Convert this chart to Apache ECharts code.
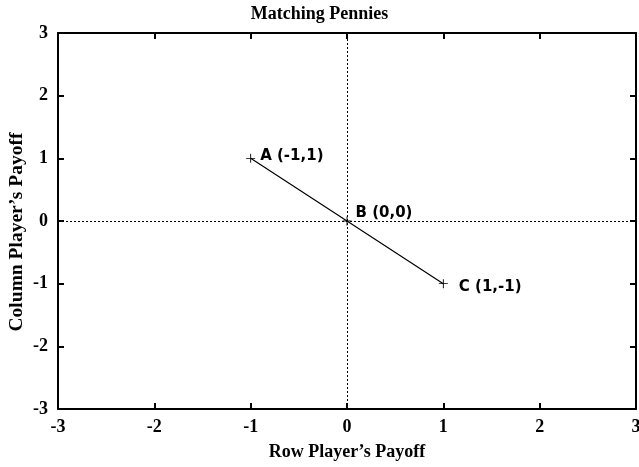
<!DOCTYPE html>
<html><head><meta charset="utf-8">
<script src="https://cdn.jsdelivr.net/npm/echarts@6/dist/echarts.min.js"></script>
<style>html,body{margin:0;padding:0;background:#fff}#c{width:639px;height:467px}</style>
</head><body><div id="c"></div>
<script>
var pointNames = ['A (-1,1)', 'B (0,0)', 'C (1,-1)'];
var xValues = [-1, 0, 1];
var yValues = [1, 0, -1];
var xTicks = [-3, -2, -1, 0, 1, 2, 3];
var yTicks = [-3, -2, -1, 0, 1, 2, 3];

var labelOffsets = [[0, -2], [-1, -8], [6, 3]];
var data = xValues.map(function (x, i) {
  return {
    value: [x, yValues[i]],
    label: { formatter: pointNames[i], offset: labelOffsets[i] }
  };
});
var serif = 'Liberation Serif';
var plus = 'path://M0,4.5h10v1h-10z M4.5,0h1v10h-1z';
var chart = echarts.init(document.getElementById('c'));
var axBase = {
  type: 'value', min: -3, max: 3, interval: 1,
  axisLine: { show: true, onZero: false, lineStyle: { color: '#000', width: 2 } },
  axisTick: { show: true, inside: true, length: 6, lineStyle: { color: '#000', width: 2 } },
  splitLine: { show: false }
};
chart.setOption({
  animation: false,
  title: {
    text: 'Matching Pennies', left: 'center', top: 0,
    textStyle: { fontFamily: serif, fontSize: 18, fontWeight: 'bold', color: '#000' }
  },
  grid: { left: 58, right: 3, top: 33, bottom: 58, containLabel: false, outerBoundsMode: 'none' },
  xAxis: [
    Object.assign({}, axBase, {
      position: 'bottom',
      name: "Row Player\u2019s Payoff", nameLocation: 'middle', nameGap: 34,
      nameTextStyle: { fontFamily: serif, fontSize: 18, fontWeight: 'bold', color: '#000' },
      axisLabel: { margin: 9, fontFamily: serif, fontSize: 18, fontWeight: 'bold', color: '#000',
        formatter: function (v) { return xTicks.indexOf(v) >= 0 ? String(v) : ''; } }
    }),
    Object.assign({}, axBase, { position: 'top', axisLabel: { show: false } })
  ],
  yAxis: [
    Object.assign({}, axBase, {
      position: 'left',
      name: "Column Player\u2019s Payoff", nameLocation: 'middle', nameGap: 31, nameMoveOverlap: false,
      nameTextStyle: { fontFamily: serif, fontSize: 19.5, fontWeight: 'bold', color: '#000', padding: [0, 22, 0, 0] },
      axisLabel: { margin: 10, fontFamily: serif, fontSize: 18, fontWeight: 'bold', color: '#000',
        formatter: function (v) { return yTicks.indexOf(v) >= 0 ? String(v) : ''; } }
    }),
    Object.assign({}, axBase, { position: 'right', axisLabel: { show: false } })
  ],
  series: [{
    type: 'line',
    data: data,
    symbol: plus,
    symbolSize: 9,
    showAllSymbol: true,
    itemStyle: { color: '#000' },
    lineStyle: { color: '#000', width: 1.2 },
    label: {
      show: true, position: 'right', color: '#000',
      fontFamily: 'DejaVu Sans', fontWeight: 'bold', fontSize: 15
    },
    markLine: {
      silent: true, symbol: 'none', label: { show: false },
      lineStyle: { type: [2, 2], color: '#000', width: 1 },
      data: [{ xAxis: 0 }, { yAxis: 0 }]
    }
  }]
});
</script></body></html>
